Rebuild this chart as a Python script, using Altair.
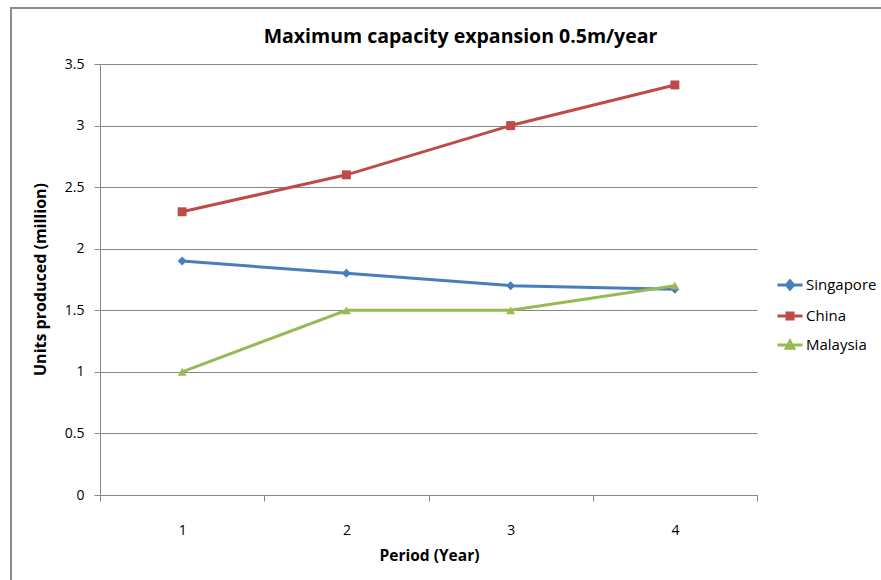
import altair as alt
import pandas as pd

periods = ["1", "2", "3", "4"]
countries = ["Singapore", "China", "Malaysia"]
singapore = [1.9, 1.8, 1.7, 1.67]
china = [2.3, 2.6, 3.0, 3.33]
malaysia = [1.0, 1.5, 1.5, 1.7]
y_ticks = [0, 0.5, 1, 1.5, 2, 2.5, 3, 3.5]

colors = ["#4a7ebb", "#be4b48", "#98b954"]
marker_shapes = ["diamond", "square", "triangle-up"]
legend_shapes = [
    "M-1,0H1M-0.28,0L0,-0.34L0.28,0L0,0.34Z",
    "M-1,0H1M-0.24,-0.24H0.24V0.24H-0.24Z",
    "M-1,0H1M-0.3,0.26L0,-0.3L0.3,0.26Z",
]

rows = []
for c, vals in zip(countries, [singapore, china, malaysia]):
    for p, v in zip(periods, vals):
        rows.append({"period": p, "country": c, "value": v})
df = pd.DataFrame(rows)

FONT = "Open Sans"
GRID = "#868686"

x_enc = alt.X(
    "period:O",
    scale=alt.Scale(type="band", paddingInner=0, paddingOuter=0),
    axis=alt.Axis(
        title="Period (Year)",
        labelAngle=0,
        tickBand="extent",
        tickSize=6,
        labelPadding=22,
        titleX=329,
        titleY=53,
        titleFontWeight="bold",
        titleFontSize=15.5,
    ),
)
y_enc = alt.Y(
    "value:Q",
    scale=alt.Scale(domain=[0, 3.5], nice=False),
    axis=alt.Axis(
        title="Units produced (million)",
        values=y_ticks,
        format="~f",
        grid=True,
        tickSize=6,
        labelPadding=10,
        titleX=-60,
        titleY=215,
        titleAlign="center",
        titleBaseline="middle",
        titleFontWeight="bold",
        titleFontSize=16,
    ),
)
color_enc = alt.Color(
    "country:N", scale=alt.Scale(domain=countries, range=colors), legend=None
)

base = alt.Chart(df)

lines = base.mark_line(strokeWidth=3).encode(x=x_enc, y=y_enc, color=color_enc)

points = base.mark_point(filled=True, opacity=1, size=80).encode(
    x=x_enc,
    y=y_enc,
    color=color_enc,
    shape=alt.Shape(
        "country:N",
        scale=alt.Scale(domain=countries, range=marker_shapes),
        legend=None,
    ),
)

legend_layer = (
    base.transform_filter("false")
    .mark_point(opacity=1, strokeWidth=3)
    .encode(
        x=x_enc,
        y=y_enc,
        fill=alt.Fill(
            "country:N",
            scale=alt.Scale(domain=countries, range=colors),
            legend=alt.Legend(title=None),
        ),
        stroke=alt.Stroke(
            "country:N",
            scale=alt.Scale(domain=countries, range=colors),
            legend=alt.Legend(title=None),
        ),
        shape=alt.Shape(
            "country:N",
            scale=alt.Scale(domain=countries, range=legend_shapes),
            legend=alt.Legend(
                title=None,
                orient="none",
                legendX=676,
                legendY=207,
                symbolSize=625,
                symbolStrokeWidth=3,
                labelFontSize=15,
                labelFont=FONT,
                labelColor="#000000",
                labelOffset=2,
                rowPadding=6,
                padding=0,
            ),
        ),
    )
)

border_data = alt.Data(values=[{"k": 1}])
border_left = alt.Chart(border_data).mark_rule(color="#8c8c8c", strokeWidth=2).encode(
    x=alt.value(-89), y=alt.value(-57), y2=alt.value(600)
)
border_top = alt.Chart(border_data).mark_rule(color="#8c8c8c", strokeWidth=2).encode(
    x=alt.value(-90), x2=alt.value(800), y=alt.value(-56)
)

chart = (
    alt.layer(border_left, border_top, lines, points, legend_layer)
    .resolve_scale(shape="independent", fill="independent", stroke="independent")
    .properties(
        width=657,
        height=431,
        background="white",
        padding={"left": 100, "top": 64, "right": 124, "bottom": 85},
        autosize=alt.AutoSizeParams(type="none"),
        title=alt.TitleParams(
            "Maximum capacity expansion 0.5m/year",
            font=FONT,
            fontSize=19.5,
            fontWeight="bold",
            color="#000000",
            anchor="middle",
            frame="group",
            baseline="alphabetic",
            dx=32,
            offset=-56,
        ),
    )
    .configure_view(stroke=None)
    .configure_axis(
        labelFont=FONT,
        titleFont=FONT,
        labelFontSize=14,
        labelColor="#000000",
        titleColor="#000000",
        domainColor=GRID,
        tickColor=GRID,
        gridColor=GRID,
        gridOpacity=1,
        domainWidth=1,
        tickWidth=1,
        gridWidth=1,
    )
)

chart.save("out.html", embed_options={"renderer": "svg", "actions": False})
